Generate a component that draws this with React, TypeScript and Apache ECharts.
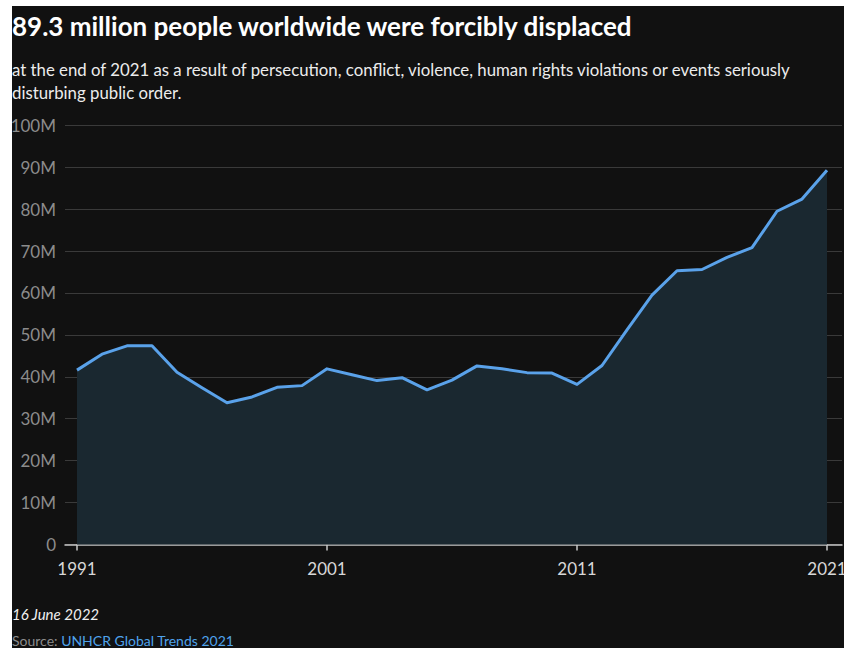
import React, { useEffect, useRef } from "react";
import * as echarts from "echarts";

const years: number[] = [
  1991, 1992, 1993, 1994, 1995, 1996, 1997, 1998, 1999, 2000,
  2001, 2002, 2003, 2004, 2005, 2006, 2007, 2008, 2009, 2010,
  2011, 2012, 2013, 2014, 2015, 2016, 2017, 2018, 2019, 2020, 2021,
];
// forcibly displaced people, millions
const displaced: number[] = [
  41.6, 45.4, 47.4, 47.4, 41.1, 37.4, 33.8, 35.2, 37.5, 37.9,
  41.9, 40.5, 39.1, 39.8, 36.9, 39.2, 42.6, 41.9, 41.0, 40.9,
  38.2, 42.7, 51.2, 59.5, 65.3, 65.6, 68.5, 70.8, 79.5, 82.4, 89.3,
];
const xTickYears: number[] = [1991, 2001, 2011, 2021];

const titleText = "89.3 million people worldwide were forcibly displaced";
const subtitleLines: string[] = [
  "at the end of 2021 as a result of persecution, conflict, violence, human rights violations or events seriously",
  "disturbing public order.",
];
const dateText = "16 June 2022";
const sourceLabel = "Source: ";
const sourceLink = "UNHCR Global Trends 2021";

export default function App() {
  const ref = useRef<HTMLDivElement>(null);
  useEffect(() => {
    if (!ref.current) return;
    const chart = echarts.init(ref.current, null, { renderer: "svg" });
    const font = "Lato, 'Noto Sans', sans-serif";
    chart.setOption({
      animation: false,
      backgroundColor: "#111111",
      textStyle: { fontFamily: font },
      grid: {
        left: 53,
        right: 2,
        top: 119.3,
        bottom: 103.5,
        containLabel: false,
        outerBoundsMode: "none",
      },
      xAxis: {
        type: "value",
        min: 1990.52,
        max: 2021.6,
        axisLine: { show: true, lineStyle: { color: "#c8c8c8", width: 1.5 } },
        axisTick: {
          show: true,
          customValues: xTickYears,
          length: 6,
          lineStyle: { color: "#c8c8c8", width: 1.5 },
        },
        axisLabel: {
          customValues: xTickYears,
          color: "#d8d8d8",
          fontSize: 17,
          fontFamily: font,
          margin: 15,
          hideOverlap: false,
          formatter: (v: number) => String(v),
        },
        splitLine: { show: false },
      },
      yAxis: {
        type: "value",
        min: 0,
        max: 100,
        interval: 10,
        axisLine: { show: false },
        axisTick: { show: false },
        axisLabel: {
          color: "#8c8c8c",
          fontSize: 17,
          fontFamily: font,
          margin: 9,
          formatter: (v: number) => (v === 0 ? "0" : v + "M"),
        },
        splitLine: { show: true, lineStyle: { color: "#3a3a3a", width: 1 } },
      },
      series: [
        {
          type: "line",
          data: years.map((y, i) => [y, displaced[i]]),
          showSymbol: false,
          symbol: "none",
          lineStyle: { color: "#5aa2ea", width: 3, join: "round" },
          areaStyle: { color: "#1a2830", opacity: 1 },
          z: 3,
        },
      ],
      graphic: [
        {
          type: "text",
          left: 0,
          top: 7,
          style: {
            text: titleText,
            font: `bold 26px ${font}`,
            fill: "#ffffff",
          },
        },
        {
          type: "text",
          left: 0,
          top: 52,
          style: {
            text: subtitleLines.join("\n"),
            font: `16.8px ${font}`,
            lineHeight: 23,
            fill: "#ececec",
          },
        },
        {
          type: "text",
          left: 0,
          top: 600,
          style: {
            text: dateText,
            font: `italic 15px ${font}`,
            fill: "#f0f0f0",
          },
        },
        {
          type: "text",
          left: 0,
          top: 627,
          style: {
            text: `{a|${sourceLabel}}{b|${sourceLink}}`,
            rich: {
              a: { font: `14px ${font}`, fill: "#8c8c8c" },
              b: { font: `14px ${font}`, fill: "#4fa3ec" },
            },
          },
        },
      ],
    });
    return () => chart.dispose();
  }, []);
  return (
    <div style={{ position: "absolute", left: 0, top: 0, width: 844, height: 648, background: "#ffffff", overflow: "hidden" }}>
      <div ref={ref} style={{ position: "absolute", left: 12, top: 6, width: 832, height: 642 }} />
    </div>
  );
}
